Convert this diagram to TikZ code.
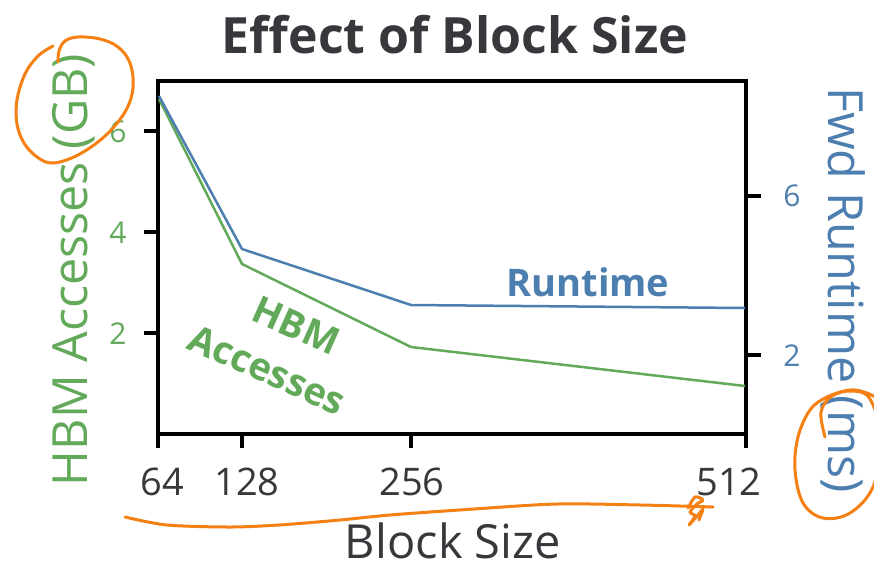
\documentclass[tikz,border=0pt]{standalone}
\usepackage{fontspec}
\setmainfont{Open Sans}
\definecolor{hbmgreen}{RGB}{98,170,90}
\definecolor{rtblue}{RGB}{76,126,176}
\definecolor{darktxt}{RGB}{55,55,60}
\definecolor{annot}{RGB}{245,128,20}
\tikzset{
  frameline/.style={line width=4pt, black},
  tickline/.style={line width=4pt, black},
  hbmline/.style={line width=2.5pt, hbmgreen, line join=round},
  rtline/.style={line width=2.5pt, rtblue, line join=round},
  ticklbl/.style={font=\fontsize{38}{38}\selectfont, text=darktxt, inner sep=0pt},
  ylbl/.style={font=\fontsize{30}{30}\selectfont, inner sep=0pt},
  axlbl/.style={font=\fontsize{48.5}{48.5}\selectfont, inner sep=0pt},
  serieslbl/.style={font=\bfseries\fontsize{38}{38}\selectfont, inner sep=0pt},
  scribble/.style={line width=3pt, annot, line cap=round, line join=round}
}
\begin{document}
\begin{tikzpicture}[x=1pt,y=-1pt]
\useasboundingbox (0,0) rectangle (874,563);
\fill[white] (0,0) rectangle (874,563);
% frame corners
\coordinate (tl) at (158,81);
\coordinate (br) at (746,434);
\draw[frameline] (tl) rectangle (br);
% bottom ticks
\foreach \x/\n in {158/a,242/b,411/c,746/d}{
  \coordinate (bt\n) at (\x,434);
  \coordinate (bb\n) at (\x,448);
  \draw[tickline] (bt\n) -- (bb\n);
}
% left ticks
\foreach \y/\n in {131/a,232/b,333/c}{
  \coordinate (lt\n) at (158,\y);
  \coordinate (ll\n) at (144,\y);
  \draw[tickline] (lt\n) -- (ll\n);
}
% right ticks
\foreach \y/\n in {196/a,355/b}{
  \coordinate (rt\n) at (746,\y);
  \coordinate (rr\n) at (761,\y);
  \draw[tickline] (rt\n) -- (rr\n);
}
% data points
\coordinate (g1) at (159,99);
\coordinate (g2) at (242,264);
\coordinate (g3) at (411,347);
\coordinate (g4) at (745,386);
\coordinate (r1) at (159,96);
\coordinate (r2) at (242,249);
\coordinate (r3) at (411,305);
\coordinate (r4) at (745,308);
\draw[hbmline] (g1) -- (g2) -- (g3) -- (g4);
\draw[rtline] (r1) -- (r2) -- (r3) -- (r4);
% title
\node[anchor=base, text=darktxt, font=\bfseries\fontsize{50}{50}\selectfont, inner sep=0pt] (title) at (455,53) {Effect of Block Size};
% x tick labels
\node[ticklbl, anchor=base] (x64) at (162,495) {64};
\node[ticklbl, anchor=base] (x128) at (247,495) {128};
\node[ticklbl, anchor=base] (x256) at (412,495) {256};
\node[ticklbl, anchor=base] (x512) at (729,495) {512};
\node[font=\fontsize{47}{47}\selectfont, inner sep=0pt, text depth=0pt, anchor=base, text=darktxt] (xlab) at (453,558) {Block Size};
% left tick labels
\node[ylbl, text=hbmgreen] (l6) at (118,132) {6};
\node[ylbl, text=hbmgreen] (l4) at (118,233) {4};
\node[ylbl, text=hbmgreen] (l2) at (118,334) {2};
% right tick labels
\node[ylbl, text=rtblue] (r6) at (792,196) {6};
\node[ylbl, text=rtblue] (r2l) at (792,356) {2};
% axis labels
\node[axlbl, text=hbmgreen, rotate=90] (ylab) at (74,270) {HBM Accesses (GB)};
\node[axlbl, text=rtblue, rotate=-90] (y2lab) at (843,290) {Fwd Runtime (ms)};
% series labels
\node[serieslbl, text=rtblue] (rtname) at (588,282) {Runtime};
\node[serieslbl, text=hbmgreen, rotate=-24, align=center, font=\bfseries\fontsize{38}{52}\selectfont] (hbmname) at (278,346) {\hspace*{16pt}HBM\\Accesses};
% hand-drawn annotations
\draw[scribble] plot[smooth, tension=0.6] coordinates {(53,46) (38,56) (25,74) (17,100) (17,124) (24,143) (37,157) (53,163) (78,155) (105,136) (125,112) (133,88) (130,63) (118,47) (100,39) (78,37) (65,41) (59,51) (58,62)};
\draw[scribble] plot[smooth, tension=0.6] coordinates {(825,437) (821,412) (832,396) (852,391) (870,399) (882,440) (873,487) (850,513) (823,518) (803,503) (795,470) (798,437) (810,410) (827,397) (850,390) (867,393) (880,400)};
\draw[scribble] plot[smooth, tension=0.5] coordinates {(125,517) (167,525) (230,527) (279,525) (340,520) (390,515) (474,509) (557,504) (641,505) (713,507)};
\draw[scribble] plot[smooth, tension=0.5] coordinates {(688,508) (695,497) (703,500) (697,504) (690,512) (695,516) (689,525) (698,515) (703,509) (699,520)};
\end{tikzpicture}
\end{document}
